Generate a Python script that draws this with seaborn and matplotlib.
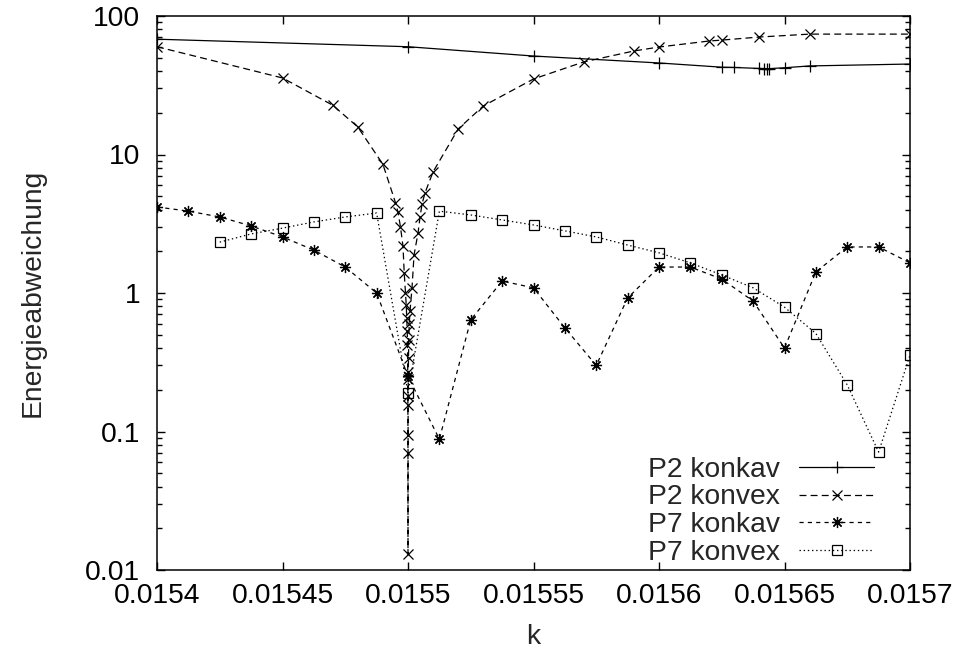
import numpy as np
import pandas as pd
import matplotlib
matplotlib.use("Agg")
import matplotlib.pyplot as plt
from matplotlib.ticker import FixedLocator, FixedFormatter, LogLocator, NullFormatter
import seaborn as sns

# ---- data ----
p2_konkav_k = [0.0154, 0.0155, 0.01555, 0.0156, 0.015625, 0.01563, 0.01564, 0.015642,
               0.015643, 0.015644, 0.01565, 0.01566, 0.0157]
p2_konkav_e = [68, 60, 51.4, 45.8, 42.7, 42.5, 41.8, 41.7, 41.7, 41.7, 42.3, 43.6, 45]

p2_konvex_k = [0.0154, 0.01545, 0.01547, 0.01548, 0.01549, 0.015495, 0.015496, 0.015497,
               0.015498, 0.0154985, 0.015499, 0.0154993, 0.0154995, 0.0154997, 0.0154998,
               0.0154999, 0.01549995, 0.01549998, 0.0155, 0.01550002, 0.01550005,
               0.0155001, 0.0155002, 0.0155003, 0.0155005, 0.0155008, 0.0155016,
               0.0155024, 0.015504, 0.0155048, 0.0155056, 0.0155068, 0.01551, 0.01552,
               0.01553, 0.01555, 0.01557, 0.01559, 0.0156, 0.01562, 0.015625, 0.01564,
               0.01566, 0.0157]
p2_konvex_e = [60, 35.7, 22.7, 15.8, 8.5, 4.5, 3.85, 3.0, 2.18, 1.39, 1.0, 0.82, 0.66,
               0.53, 0.42, 0.27, 0.18, 0.095, 0.013, 0.07, 0.155, 0.24, 0.34, 0.46, 0.60,
               0.74, 1.09, 1.88, 2.71, 3.54, 4.4, 5.3, 7.5, 15.3, 22.4, 35.1, 46.6, 55.9,
               59.7, 66, 67, 70.5, 74, 74]

p7_konkav_k = [0.0154, 0.0154125, 0.015425, 0.0154375, 0.01545, 0.0154625, 0.015475,
               0.0154875, 0.0155, 0.0155125, 0.015525, 0.0155375, 0.01555, 0.0155625,
               0.015575, 0.0155875, 0.0156, 0.0156125, 0.015625, 0.0156375, 0.01565,
               0.0156625, 0.015675, 0.0156875, 0.0157]
p7_konkav_e = [4.18, 3.9, 3.54, 3.05, 2.54, 2.04, 1.54, 1.0, 0.25, 0.088, 0.64, 1.22,
               1.09, 0.56, 0.30, 0.92, 1.54, 1.54, 1.26, 0.875, 0.40, 1.42, 2.15, 2.15,
               1.65]

p7_konvex_k = [0.015425, 0.0154375, 0.01545, 0.0154625, 0.015475, 0.0154875, 0.0155,
               0.0155125, 0.015525, 0.0155375, 0.01555, 0.0155625, 0.015575, 0.0155875,
               0.0156, 0.0156125, 0.015625, 0.0156375, 0.01565, 0.0156625, 0.015675,
               0.0156875, 0.0157]
p7_konvex_e = [2.33, 2.67, 2.94, 3.26, 3.54, 3.78, 0.19, 3.9, 3.66, 3.37, 3.1, 2.81,
               2.54, 2.22, 1.95, 1.65, 1.35, 1.09, 0.79, 0.51, 0.217, 0.071, 0.356]

series_names = ["P2 konkav", "P2 konvex", "P7 konkav", "P7 konvex"]
x_ticks = [0.0154, 0.01545, 0.0155, 0.01555, 0.0156, 0.01565, 0.0157]
x_tick_labels = ["0.0154", "0.01545", "0.0155", "0.01555", "0.0156", "0.01565", "0.0157"]
y_ticks = [0.01, 0.1, 1, 10, 100]
y_tick_labels = ["0.01", "0.1", "1", "10", "100"]

# ---- style ----
sns.set_style("ticks")
plt.rcParams["font.family"] = ["Liberation Sans", "DejaVu Sans"]
plt.rcParams["lines.scale_dashes"] = False
FS = 20.3

fig = plt.figure(figsize=(9.58, 6.53), dpi=100)
ax = fig.add_axes([157 / 958, 1 - 570 / 653, 753 / 958, 554 / 653])

styles = [
    dict(marker="+", ls="-", ms=8),
    dict(marker="x", ls=(0, (5, 3)), ms=7),
    dict(marker=(8, 2, 0), ls=(0, (3, 3)), ms=8),
    dict(marker="s", ls=(0, (1, 2)), ms=6.5, mfc="none"),
]
data = [(p2_konkav_k, p2_konkav_e), (p2_konvex_k, p2_konvex_e),
        (p7_konkav_k, p7_konkav_e), (p7_konvex_k, p7_konvex_e)]

for name, (kx, ey), st in zip(series_names, data, styles):
    df = pd.DataFrame({"k": kx, "E": ey})
    sns.lineplot(data=df, x="k", y="E", ax=ax, color="black", lw=0.9,
                 estimator=None, sort=True, label=name,
                 marker=st["marker"], linestyle=st["ls"], markersize=st["ms"],
                 markeredgecolor="black", markeredgewidth=0.9,
                 markerfacecolor=st.get("mfc", "black"))

ax.set_yscale("log")
ax.set_xlim(0.0154, 0.0157)
ax.set_ylim(0.01, 100)
ax.xaxis.set_major_locator(FixedLocator(x_ticks))
ax.xaxis.set_major_formatter(FixedFormatter(x_tick_labels))
ax.yaxis.set_major_locator(FixedLocator(y_ticks))
ax.yaxis.set_major_formatter(FixedFormatter(y_tick_labels))
ax.yaxis.set_minor_locator(LogLocator(base=10, subs=np.arange(2, 10), numticks=20))
ax.yaxis.set_minor_formatter(NullFormatter())
ax.xaxis.set_minor_locator(FixedLocator([]))

ax.tick_params(which="both", direction="in", top=True, right=True, colors="black",
               labelsize=FS)
ax.tick_params(which="major", length=6, width=1)
ax.tick_params(which="minor", length=3.5, width=1)
ax.tick_params(axis="x", pad=9.5)
ax.tick_params(axis="y", pad=12)
for s in ax.spines.values():
    s.set_linewidth(1.1)
    s.set_color("black")

ax.set_xlabel("k", fontsize=FS)
ax.set_ylabel("Energieabweichung", fontsize=FS)
ax.xaxis.set_label_coords(0.5, -0.097)
ax.yaxis.set_label_coords(-0.148, 0.5)

leg = ax.legend(loc="lower right", bbox_to_anchor=(0.958, 0.0), frameon=False,
                markerfirst=False, fontsize=FS, handlelength=2.65,
                handletextpad=0.7, labelspacing=0.06, borderpad=0.15,
                borderaxespad=0.0)

fig.savefig("out.png", dpi=100)
